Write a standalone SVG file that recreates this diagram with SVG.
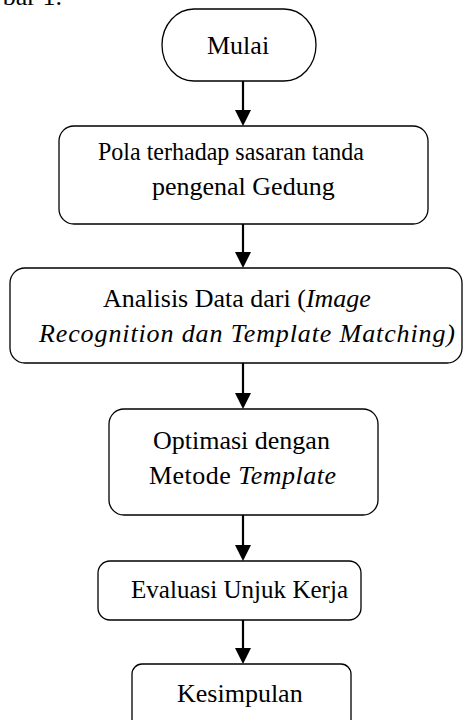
<svg xmlns="http://www.w3.org/2000/svg" width="463" height="720" viewBox="0 0 463 720">
<style>
.box{fill:#fff;stroke:#000;stroke-width:1.3}
.t{font-family:"Liberation Serif","Times New Roman",serif;font-size:26px;fill:#000}
.i{font-style:italic}
.c{stroke:#000;stroke-width:2.2;fill:none}
.h{fill:#000}
</style>
<rect width="463" height="720" fill="#fff"/>
<text class="t" x="62" y="5" text-anchor="end">bar 1.</text>
<g id="connectors">
<line class="c" x1="243" y1="81" x2="243" y2="110"/>
<path class="h" d="M235,110 L251,110 L243,126 Z"/>
<line class="c" x1="243" y1="224" x2="243" y2="252"/>
<path class="h" d="M235,252 L251,252 L243,268 Z"/>
<line class="c" x1="243" y1="363" x2="243" y2="393"/>
<path class="h" d="M235,393 L251,393 L243,409 Z"/>
<line class="c" x1="243" y1="515" x2="243" y2="545"/>
<path class="h" d="M235,545 L251,545 L243,561 Z"/>
<line class="c" x1="243" y1="620" x2="243" y2="648"/>
<path class="h" d="M235,648 L251,648 L243,664 Z"/>
</g>
<g id="mulai">
<rect class="box" x="162" y="9" width="154" height="72" rx="32" ry="36"/>
<text class="t" x="207" y="54">Mulai</text>
</g>
<g id="pola">
<rect class="box" x="59" y="126" width="369" height="98" rx="15"/>
<text class="t" x="98" y="160" textLength="266" lengthAdjust="spacingAndGlyphs">Pola terhadap sasaran tanda</text>
<text class="t" x="152" y="195">pengenal Gedung</text>
</g>
<g id="analisis">
<rect class="box" x="10" y="268" width="452" height="95" rx="15"/>
<text class="t" x="103" y="307">Analisis Data dari (<tspan class="i">Image</tspan></text>
<text class="t i" x="39" y="342" textLength="416">Recognition dan Template Matching)</text>
</g>
<g id="optimasi">
<rect class="box" x="109" y="409" width="269" height="106" rx="15"/>
<text class="t" x="153" y="449">Optimasi dengan</text>
<text class="t" x="149" y="484" textLength="187">Metode <tspan class="i">Template</tspan></text>
</g>
<g id="evaluasi">
<rect class="box" x="98" y="561" width="263" height="59" rx="12"/>
<text class="t" x="131" y="598" textLength="217" lengthAdjust="spacingAndGlyphs">Evaluasi Unjuk Kerja</text>
</g>
<g id="kesimpulan">
<rect class="box" x="132" y="664" width="219" height="70" rx="10"/>
<text class="t" x="177" y="702">Kesimpulan</text>
</g>
</svg>
